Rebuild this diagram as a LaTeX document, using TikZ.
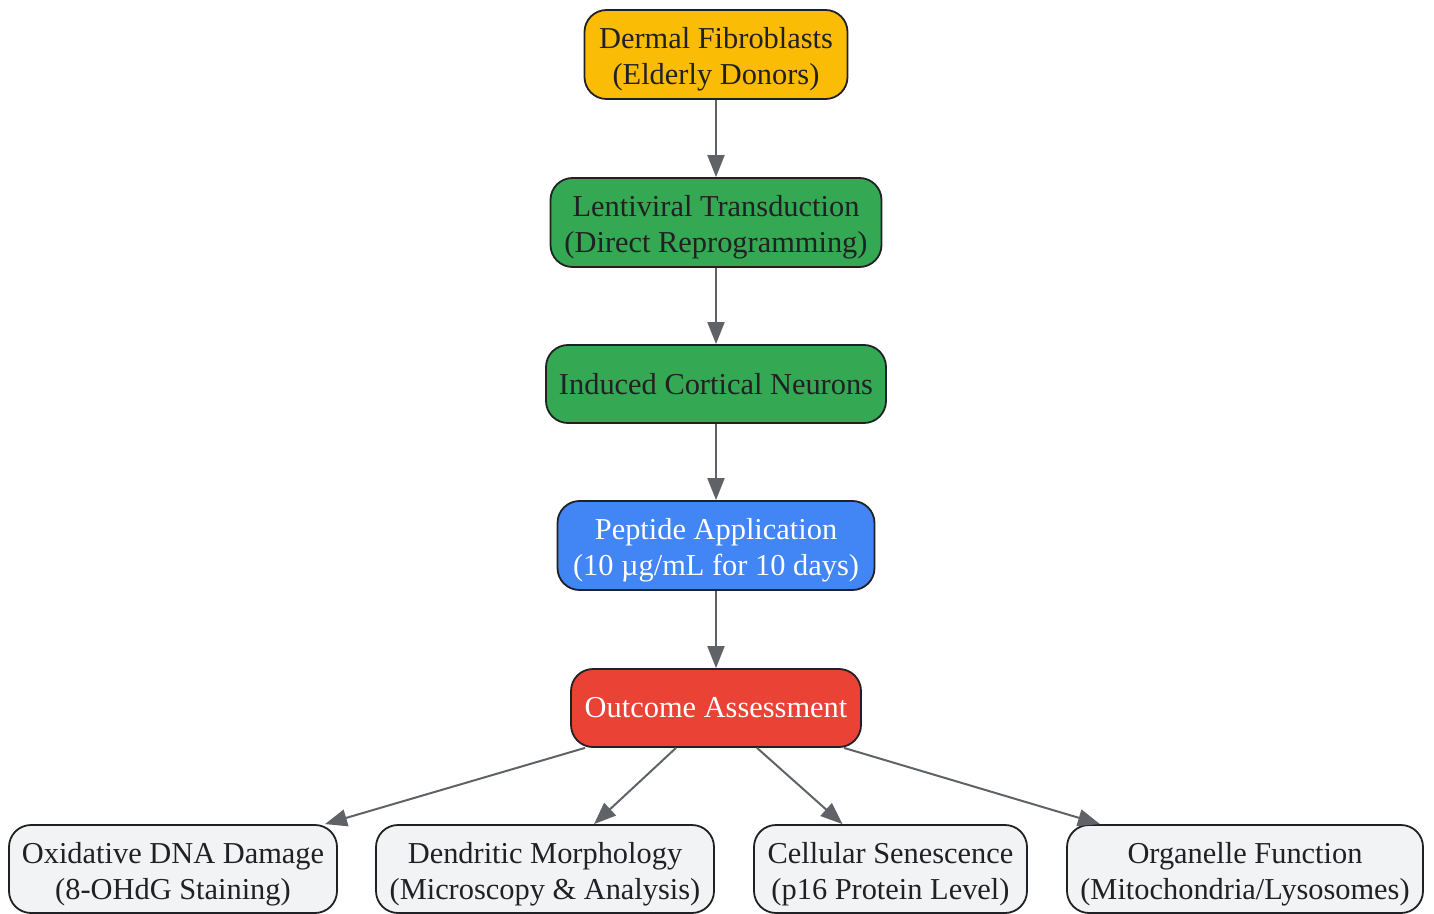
\documentclass[tikz,border=0pt]{standalone}
\usepackage{fontspec}
\setmainfont{Liberation Serif}
\usepackage{tikz}
\usetikzlibrary{arrows.meta}

\definecolor{fibro}{HTML}{FBBC05}
\definecolor{leaf}{HTML}{34A853}
\definecolor{sky}{HTML}{4285F4}
\definecolor{tomato}{HTML}{EA4335}
\definecolor{pale}{HTML}{F1F3F4}
\definecolor{ink}{HTML}{202124}
\definecolor{wire}{HTML}{5F6368}

% extra room above the first line of two-line labels
\newcommand{\headroom}{\rule{0pt}{15.5pt}}

\tikzset{
    stage/.style={rectangle, rounded corners=11pt, draw=ink, line width=0.9pt,
        align=center, text=ink, inner sep=0pt, minimum height=44.5pt,
        font=\fontsize{15.2}{18}\selectfont},
    flow/.style={-{Triangle[length=11pt,width=8.5pt]}, draw=wire, line width=1pt}
}

\begin{document}
\begin{tikzpicture}[x=0.5pt, y=-0.5pt]
            \useasboundingbox (0,0) rectangle (1434,914);

            \node[stage, fill=fibro, minimum width=131.5pt] at (716, 54.5)  (donor) {\headroom Dermal Fibroblasts\\(Elderly Donors)};
            \node[stage, fill=leaf, minimum width=165.5pt]  at (716, 222.5) (lenti) {\headroom Lentiviral Transduction\\(Direct Reprogramming)};
            \node[stage, fill=leaf, minimum width=170pt, minimum height=39pt] at (716, 384) (neuron) {Induced Cortical Neurons};
            \node[stage, fill=sky, text=white, minimum width=158.5pt] at (716, 545.5) (peptide) {\headroom Peptide Application\\(10 µg/mL for 10 days)};
            \node[stage, fill=tomato, text=white, minimum width=145pt, minimum height=39pt] at (716, 708) (outcome) {Outcome Assessment};

            \node[stage, fill=pale, minimum width=164pt, minimum height=44pt] at (173, 869)    (dna)   {\headroom Oxidative DNA Damage\\(8-OHdG Staining)};
            \node[stage, fill=pale, minimum width=169pt, minimum height=44pt] at (545, 869)    (dendr) {\headroom Dendritic Morphology\\(Microscopy \& Analysis)};
            \node[stage, fill=pale, minimum width=136.5pt, minimum height=44pt] at (890.5, 869) (senes) {\headroom Cellular Senescence\\(p16 Protein Level)};
            \node[stage, fill=pale, minimum width=178pt, minimum height=44pt] at (1245, 869)   (organ) {\headroom Organelle Function\\(Mitochondria/Lysosomes)};

            \draw [flow] (donor) -- (lenti);
            \draw [flow] (lenti) -- (neuron);
            \draw [flow] (neuron) -- (peptide);
            \draw [flow] (peptide) -- (outcome);

            \draw [flow] ([xshift=-65.5pt]outcome.south) -- ([xshift=76pt]dna.north);
            \draw [flow] ([xshift=-20pt]outcome.south)   -- ([xshift=24.5pt]dendr.north);
            \draw [flow] ([xshift=20.5pt]outcome.south)  -- ([xshift=-24pt]senes.north);
            \draw [flow] ([xshift=64pt]outcome.south)    -- ([xshift=-72.5pt]organ.north);
        \end{tikzpicture}
\end{document}
